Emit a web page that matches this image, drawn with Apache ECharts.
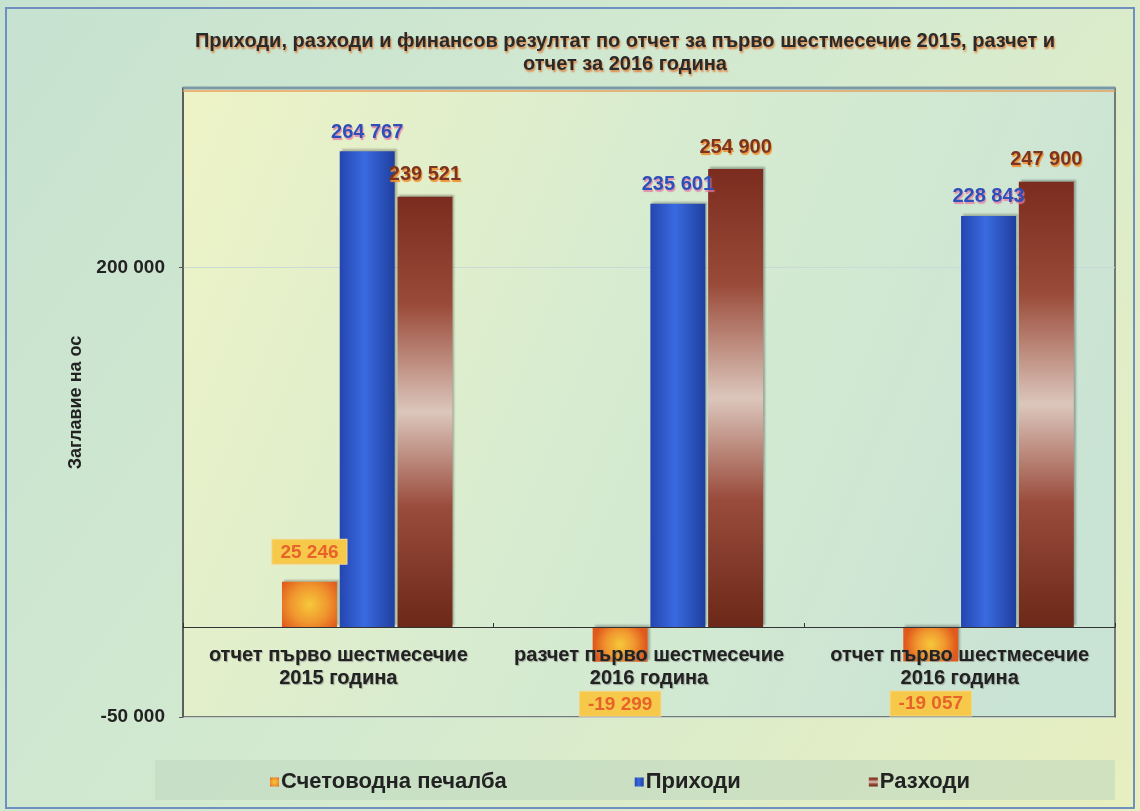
<!DOCTYPE html>
<html><head><meta charset="utf-8">
<script src="https://cdn.jsdelivr.net/npm/echarts@6/dist/echarts.min.js"></script>
<style>html,body{margin:0;padding:0;background:#fff}#c{width:1140px;height:811px}</style>
</head><body><div id="c"></div>
<script>
const titleText = 'Приходи, разходи и финансов резултат по отчет за първо шестмесечие 2015, разчет и\nотчет за 2016 година';
const categories = ['отчет първо шестмесечие\n2015 година', 'разчет първо шестмесечие\n2016 година', 'отчет първо шестмесечие\n2016 година'];
const seriesNames = ['Счетоводна печалба', 'Приходи', 'Разходи'];
const profit = [25246, -19299, -19057];
const income = [264767, 235601, 228843];
const expenses = [239521, 254900, 247900];
const yMin = -50000, yMax = 300000, yStep = 250000;

const fmt = v => {
  const s = Math.abs(v).toString().replace(/\B(?=(\d{3})+(?!\d))/g, ' ');
  return (v < 0 ? '-' : '') + s;
};
const FONT = 'Liberation Sans, Arial, sans-serif';

const chart = echarts.init(document.getElementById('c'));
const profitData = profit.map(v => ({
  value: v,
  label: v < 0 ? {position: 'bottom', distance: 30} : {position: 'top', distance: 18}
}));

// zero line sits 50000 units above the bottom of the plot
const plotH = 811 - 88 - 94;
const zeroOffset = -Math.round(plotH * (0 - yMin) / (yMax - yMin));

chart.setOption({
  backgroundColor: new echarts.graphic.LinearGradient(0, 0, 1, 1, [
    {offset: 0, color: '#c6e2d0'}, {offset: 0.5, color: '#d4ead0'}, {offset: 1, color: '#e8efc0'}
  ]),
  graphic: [
    {type: 'rect', shape: {x: 6, y: 8, width: 1128, height: 800}, style: {fill: 'none', stroke: '#6f8fc0', lineWidth: 2}, z: 0},
    {type: 'rect', shape: {x: 155, y: 760, width: 960, height: 40}, style: {fill: 'rgba(190,215,190,0.55)'}, z: 0},
    {type: 'line', shape: {x1: 183, y1: 88, x2: 1115, y2: 88}, style: {stroke: '#7a9aa8', lineWidth: 3}, z: 5},
    {type: 'line', shape: {x1: 183, y1: 91, x2: 1115, y2: 91}, style: {stroke: '#e8a060', lineWidth: 1.5}, z: 5}
  ],
  title: {
    text: titleText, left: 620, top: 25, textAlign: 'center',
    textStyle: {fontFamily: FONT, fontSize: 20, fontWeight: 'bold', color: '#2a2a2a', lineHeight: 23,
      textShadowColor: 'rgba(225,110,40,0.85)', textShadowOffsetX: 1, textShadowOffsetY: 2, textShadowBlur: 2}
  },
  legend: {
    data: seriesNames, top: 766, left: 265, itemGap: 128, itemWidth: 9, itemHeight: 9, icon: 'rect',
    textStyle: {fontFamily: FONT, fontSize: 22, fontWeight: 'bold', color: '#222', padding: [0, 0, 0, -3]}
  },
  grid: {
    left: 183, right: 25, top: 88, bottom: 94, show: true, borderColor: '#555', borderWidth: 1.5,
    backgroundColor: new echarts.graphic.LinearGradient(0, 0, 1, 0.6, [
      {offset: 0, color: '#eef3c6'}, {offset: 0.5, color: '#d6ebd0'}, {offset: 1, color: '#c9e3d4'}
    ])
  },
  xAxis: {
    type: 'category', data: categories, z: 10, position: 'bottom', offset: zeroOffset,
    axisLine: {onZero: false, lineStyle: {color: '#333', width: 1.2}},
    axisTick: {show: true, inside: true, length: 4, lineStyle: {color: '#333'}},
    axisLabel: {interval: 0, hideOverlap: false, fontFamily: FONT, fontSize: 20, fontWeight: 'bold', color: '#222',
      lineHeight: 23, margin: 17,
      textShadowColor: 'rgba(120,120,120,0.6)', textShadowOffsetX: 1, textShadowOffsetY: 1, textShadowBlur: 1}
  },
  yAxis: {
    type: 'value', min: yMin, max: yMax, interval: yStep,
    name: 'Заглавие на ос', nameLocation: 'middle', nameGap: 92, nameRotate: 90,
    nameTextStyle: {fontFamily: FONT, fontSize: 18, fontWeight: 'bold', color: '#222'},
    axisLine: {show: true, lineStyle: {color: '#555', width: 1.5}},
    axisTick: {show: true, length: 4, lineStyle: {color: '#555'}},
    splitLine: {show: true, lineStyle: {color: 'rgba(200,215,215,0.9)', width: 1}},
    axisLabel: {showMaxLabel: false, margin: 18, fontFamily: FONT, fontSize: 19, fontWeight: 'bold', color: '#222',
      formatter: v => fmt(v)}
  },
  series: [
    {name: '_pad', type: 'bar', data: [null, null, null], barWidth: 55, barGap: '5%', silent: true},
    {
      name: seriesNames[0], type: 'bar', data: profitData, barWidth: 55, barGap: '5%',
      itemStyle: {color: new echarts.graphic.RadialGradient(0.5, 0.5, 0.75, [
        {offset: 0, color: '#f6c83a'}, {offset: 0.55, color: '#f0962e'}, {offset: 1, color: '#e05a1c'}
      ]), shadowColor: 'rgba(0,0,0,0.25)', shadowOffsetX: 2, shadowOffsetY: -2, shadowBlur: 2},
      label: {show: true, formatter: p => fmt(p.value), fontFamily: FONT, fontSize: 19, fontWeight: 'bold',
        color: '#e8632a', backgroundColor: '#f6c94a', padding: [3, 8, 2, 8], borderColor: '#f2d890', borderWidth: 1}
    },
    {
      name: seriesNames[1], type: 'bar', data: income, barWidth: 55, barGap: '5%',
      itemStyle: {color: new echarts.graphic.LinearGradient(0, 0, 1, 0, [
        {offset: 0, color: '#2446b0'}, {offset: 0.45, color: '#3a6ae0'}, {offset: 1, color: '#1f3f9e'}
      ]), shadowColor: 'rgba(0,0,0,0.25)', shadowOffsetX: 2, shadowOffsetY: -2, shadowBlur: 2},
      label: {show: true, position: 'top', distance: 9, formatter: p => fmt(p.value), fontFamily: FONT, fontSize: 20,
        fontWeight: 'bold', color: '#2f4fb8', textShadowColor: 'rgba(230,120,160,0.8)', textShadowOffsetX: 1,
        textShadowOffsetY: 2, textShadowBlur: 1}
    },
    {
      name: seriesNames[2], type: 'bar', data: expenses, barWidth: 55, barGap: '5%',
      itemStyle: {color: new echarts.graphic.LinearGradient(0, 0, 0, 1, [
        {offset: 0, color: '#7c2c1e'}, {offset: 0.25, color: '#9a4a38'}, {offset: 0.5, color: '#dcc6bc'},
        {offset: 0.72, color: '#9a4c3c'}, {offset: 1, color: '#6c2818'}
      ]), shadowColor: 'rgba(0,0,0,0.3)', shadowOffsetX: 2, shadowOffsetY: -2, shadowBlur: 2},
      label: {show: true, position: 'top', distance: 12, formatter: p => fmt(p.value), fontFamily: FONT, fontSize: 20,
        fontWeight: 'bold', color: '#7a3420', textShadowColor: 'rgba(240,140,40,0.95)', textShadowOffsetX: 1,
        textShadowOffsetY: 2, textShadowBlur: 1}
    }
  ]
});
</script></body></html>
